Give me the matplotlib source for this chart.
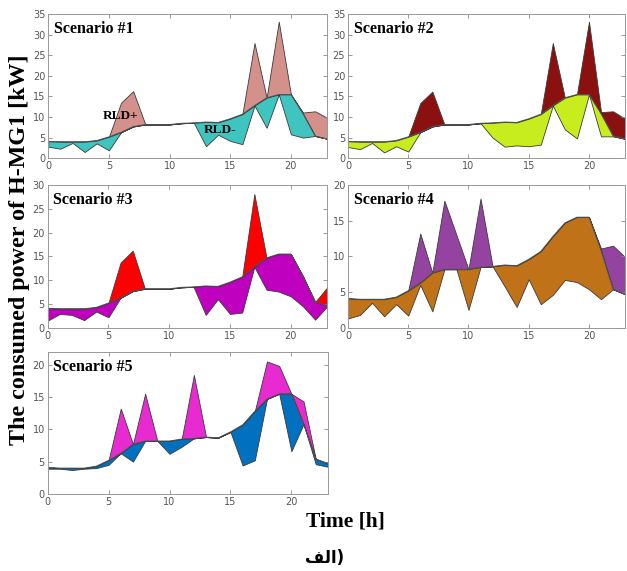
import numpy as np
import matplotlib
matplotlib.use("Agg")
import matplotlib.pyplot as plt

# hours of the day
hours = list(range(24))

# initial (base) consumed power of H-MG1, kW
base = [4.1, 4.0, 4.0, 4.0, 4.3, 5.2, 6.3, 7.7, 8.2, 8.2, 8.2, 8.5,
        8.6, 8.8, 8.7, 9.6, 10.7, 12.8, 14.7, 15.5, 15.5, 10.8, 5.4, 4.7]

# RLD+ (upper) and RLD- (lower) curves per scenario
s1_up = [4.1, 4.0, 4.0, 4.0, 4.3, 5.2, 13.5, 16.3, 8.2, 8.2, 8.2, 8.5,
         8.6, 8.8, 8.7, 9.6, 10.7, 28.0, 14.7, 33.2, 15.5, 11.1, 11.4, 9.8]
s1_down = [2.8, 2.3, 3.7, 1.5, 3.6, 1.9, 6.3, 7.7, 8.2, 8.2, 8.2, 8.5,
           8.6, 2.9, 5.7, 4.2, 3.4, 12.8, 7.4, 15.5, 5.8, 5.0, 5.4, 4.7]

s2_up = [4.1, 4.0, 4.0, 4.0, 4.3, 5.2, 13.4, 16.2, 8.2, 8.2, 8.2, 8.5,
         8.6, 8.8, 8.7, 9.6, 10.7, 28.0, 14.7, 15.5, 33.2, 11.2, 11.4, 9.6]
s2_down = [2.7, 2.2, 3.7, 1.4, 2.9, 1.6, 6.3, 7.7, 8.2, 8.2, 8.2, 8.5,
           5.0, 2.8, 3.1, 2.9, 3.3, 12.8, 7.0, 4.8, 15.5, 5.3, 5.3, 4.7]

s3_up = [4.1, 4.0, 4.0, 4.0, 4.3, 5.2, 13.7, 16.2, 8.2, 8.2, 8.2, 8.5,
         8.6, 8.8, 8.7, 9.6, 10.7, 28.1, 14.7, 15.5, 15.5, 10.8, 5.4, 8.5]
s3_down = [1.5, 2.9, 2.7, 1.6, 3.4, 2.2, 6.3, 7.7, 8.2, 8.2, 8.2, 8.5,
           8.6, 2.7, 6.0, 2.9, 3.2, 12.8, 8.0, 7.6, 6.6, 4.5, 1.7, 4.5]

s4_up = [4.1, 4.0, 4.0, 4.0, 4.3, 5.2, 13.2, 7.7, 17.8, 13.0, 8.2, 18.1,
         8.6, 8.8, 8.7, 9.6, 10.7, 12.8, 14.7, 15.5, 15.5, 11.1, 11.5, 9.9]
s4_down = [1.3, 1.8, 3.5, 1.6, 3.3, 1.7, 6.0, 2.3, 8.2, 8.2, 2.5, 8.5,
           8.6, 5.8, 2.9, 6.8, 3.3, 4.6, 6.7, 6.4, 5.4, 4.0, 5.4, 4.7]

s5_up = [4.1, 4.0, 4.0, 4.0, 4.3, 5.2, 13.2, 7.7, 15.5, 8.2, 8.2, 8.5,
         18.4, 8.8, 8.7, 9.6, 10.7, 12.8, 20.5, 19.8, 15.5, 14.3, 5.4, 4.7]
s5_down = [3.9, 3.9, 3.7, 3.9, 4.0, 4.5, 6.3, 5.0, 8.2, 8.2, 6.2, 7.3,
           8.6, 8.8, 8.7, 9.6, 4.4, 5.2, 14.7, 15.5, 6.6, 10.8, 4.6, 4.2]

titles = ["Scenario #1", "Scenario #2", "Scenario #3", "Scenario #4", "Scenario #5"]
ups = [s1_up, s2_up, s3_up, s4_up, s5_up]
downs = [s1_down, s2_down, s3_down, s4_down, s5_down]
up_colors = ["#d4908a", "#8b1111", "#ff0000", "#9443a0", "#e82bd0"]
down_colors = ["#3fc4c0", "#c8ed1e", "#bf00bf", "#bf7218", "#0070bf"]
ytops = [35, 35, 30, 20, 22]
yticks = [range(0, 36, 5), range(0, 36, 5), range(0, 31, 5), range(0, 21, 5), range(0, 21, 5)]

# axes boxes in figure fractions [left, bottom, width, height]
boxes = [[0.077, 0.723, 0.445, 0.252],
         [0.555, 0.723, 0.442, 0.252],
         [0.076, 0.426, 0.446, 0.250],
         [0.555, 0.426, 0.442, 0.250],
         [0.076, 0.135, 0.447, 0.249]]

serif = ["Liberation Serif", "DejaVu Serif"]

fig = plt.figure(figsize=(6.27, 5.71), dpi=100, facecolor="w")

x = np.array(hours)
b = np.array(base)
for i in range(5):
    ax = fig.add_axes(boxes[i])
    u = np.array(ups[i])
    d = np.array(downs[i])
    ax.fill_between(x, b, u, facecolor=up_colors[i], edgecolor="#3a3a3a", linewidth=0.6)
    ax.fill_between(x, d, b, facecolor=down_colors[i], edgecolor="#3a3a3a", linewidth=0.6)
    ax.plot(x, b, color="#555555", linewidth=0.6)
    ax.set_xlim(0, 23)
    ax.set_ylim(0, ytops[i])
    ax.set_xticks([0, 5, 10, 15, 20])
    ax.set_yticks(list(yticks[i]))
    ax.tick_params(direction="in", length=3, width=0.6, top=True, right=True,
                   labelsize=7, colors="#888888", labelcolor="#555555", pad=2)
    for sp in ax.spines.values():
        sp.set_color("#999999")
        sp.set_linewidth(0.7)
    ax.text(0.02, 0.95, titles[i], transform=ax.transAxes, va="top", ha="left",
            fontsize=11.5, fontweight="bold", family=serif)

# annotations in scenario 1
ax1 = fig.axes[0]
ax1.text(4.5, 9.5, "RLD+", fontsize=9.5, fontweight="bold", family=serif)
ax1.text(12.85, 6.2, "RLD-", fontsize=9.5, fontweight="bold", family=serif)

fig.text(0.031, 0.562, "The consumed power of H-MG1 [kW]", rotation=90,
         ha="center", va="center", fontsize=17.3, fontweight="bold", family=serif)
fig.text(0.551, 0.086, "Time [h]", ha="center", va="center",
         fontsize=15.5, fontweight="bold", family=serif)
# caption in Arabic script, glyphs given in visual order (presentation forms)
fig.text(0.518, 0.023, "\ufed2\ufedf\ufe8d)", ha="center", va="center",
         fontsize=12, fontweight="bold", family=["DejaVu Sans"])

fig.savefig("out.png", dpi=100)
